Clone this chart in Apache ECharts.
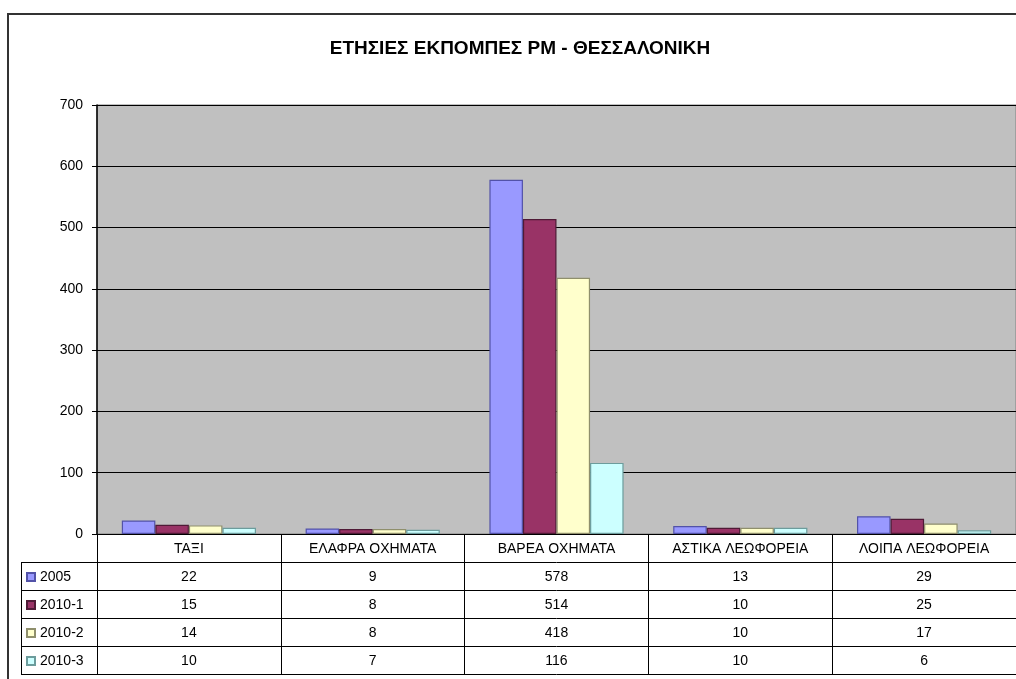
<!DOCTYPE html>
<html>
<head>
<meta charset="utf-8">
<script src="https://cdn.jsdelivr.net/npm/echarts@6/dist/echarts.min.js"></script>
<style>
  html, body { margin: 0; padding: 0; background: #fff; }
  #chart { width: 1016px; height: 679px; }
</style>
</head>
<body>
<div id="chart"></div>
<script>
  // dados
  const titulo = 'ΕΤΗΣΙΕΣ ΕΚΠΟΜΠΕΣ PM - ΘΕΣΣΑΛΟΝΙΚΗ';
  const categorias = ['ΤΑΞΙ', 'ΕΛΑΦΡΑ ΟΧΗΜΑΤΑ', 'ΒΑΡΕΑ ΟΧΗΜΑΤΑ', 'ΑΣΤΙΚΑ ΛΕΩΦΟΡΕΙΑ', 'ΛΟΙΠΑ ΛΕΩΦΟΡΕΙΑ'];
  const nomesSeries = ['2005', '2010-1', '2010-2', '2010-3'];
  const v2005 = [22, 9, 578, 13, 29];
  const v2010_1 = [15, 8, 514, 10, 25];
  const v2010_2 = [14, 8, 418, 10, 17];
  const v2010_3 = [10, 7, 116, 10, 6];
  const valores = [v2005, v2010_1, v2010_2, v2010_3];
  const yTicks = [0, 100, 200, 300, 400, 500, 600, 700];

  const cores = ['#9999FF', '#993366', '#FFFFCC', '#CCFFFF'];
  const bordas = ['#5252a8', '#4f1a36', '#8f8f6c', '#6c9c9c'];

  // layout (estilo Excel com tabela de dados)
  const FONTE = 'Liberation Sans, Arial, sans-serif';
  const GRID_LEFT = 97, GRID_TOP = 105, GRID_W = 922, GRID_H = 429;
  const EIXO_Y = GRID_TOP + GRID_H;
  const LINHA_H = 28;
  const COL_ROTULO_X = 21;

  const chart = echarts.init(document.getElementById('chart'));

  // eixo x principal (cabecalho) + um eixo por linha da tabela
  const eixosX = [{
    type: 'category',
    data: categorias,
    gridIndex: 0,
    position: 'bottom',
    axisLine: { lineStyle: { color: '#000', width: 1 } },
    axisTick: { show: true, length: LINHA_H, interval: 0, lineStyle: { color: '#000' } },
    axisLabel: { interval: 0, margin: 8, color: '#000', fontSize: 14, fontFamily: FONTE }
  }];
  valores.forEach((linha, i) => {
    eixosX.push({
      type: 'category',
      data: categorias,
      gridIndex: 0,
      position: 'bottom',
      offset: LINHA_H * (i + 1),
      axisLine: { lineStyle: { color: '#000', width: 1 } },
      axisTick: { show: true, length: LINHA_H, interval: 0, lineStyle: { color: '#000' } },
      axisLabel: {
        interval: 0, margin: 8, color: '#000', fontSize: 14, fontFamily: FONTE,
        formatter: (v, idx) => String(linha[idx])
      }
    });
  });
  // linha final da tabela
  eixosX.push({
    type: 'category',
    data: categorias,
    gridIndex: 0,
    position: 'bottom',
    offset: LINHA_H * (valores.length + 1),
    axisLine: { lineStyle: { color: '#000', width: 1 } },
    axisTick: { show: false },
    axisLabel: { show: false }
  });

  // bordas da coluna de rotulos a esquerda
  const linhasRotulo = [];
  for (let i = 1; i <= valores.length + 1; i++) {
    const y = EIXO_Y + LINHA_H * i + 0.5;
    linhasRotulo.push({
      type: 'line',
      shape: { x1: COL_ROTULO_X, y1: y, x2: GRID_LEFT, y2: y },
      style: { stroke: '#000', lineWidth: 1 }
    });
  }
  linhasRotulo.push({
    type: 'line',
    shape: { x1: COL_ROTULO_X + 0.5, y1: EIXO_Y + LINHA_H, x2: COL_ROTULO_X + 0.5, y2: EIXO_Y + LINHA_H * (valores.length + 1) },
    style: { stroke: '#000', lineWidth: 1 }
  });

  chart.setOption({
    animation: false,
    title: {
      text: titulo,
      left: 520,
      top: 39,
      padding: 0,
      textAlign: 'center',
      textStyle: { fontSize: 19, fontWeight: 'bold', color: '#000', fontFamily: FONTE }
    },
    legend: {
      data: nomesSeries,
      orient: 'vertical',
      left: 26,
      top: EIXO_Y + LINHA_H + 1,
      padding: 0,
      itemGap: 0,
      itemWidth: 8,
      itemHeight: 8,
      icon: 'rect',
      textStyle: { fontSize: 14, color: '#000', fontFamily: FONTE, lineHeight: LINHA_H }
    },
    grid: {
      left: GRID_LEFT, top: GRID_TOP, width: GRID_W, height: GRID_H,
      show: true, backgroundColor: '#C0C0C0', borderColor: '#808080', borderWidth: 1
    },
    xAxis: eixosX,
    yAxis: {
      type: 'value',
      min: yTicks[0],
      max: yTicks[yTicks.length - 1],
      interval: 100,
      axisLine: { show: true, lineStyle: { color: '#000', width: 1.5 } },
      axisTick: { show: true, length: 5, lineStyle: { color: '#000' } },
      axisLabel: { margin: 14, color: '#000', fontSize: 14, fontFamily: FONTE },
      splitLine: { show: true, lineStyle: { color: '#000', width: 1.2 } }
    },
    graphic: [
      {
        type: 'rect',
        shape: { x: 8, y: 14, width: 1100, height: 800 },
        style: { fill: 'none', stroke: '#333', lineWidth: 2 },
        silent: true
      },
      ...linhasRotulo
    ],
    series: valores.map((linha, i) => ({
      name: nomesSeries[i],
      type: 'bar',
      xAxisIndex: 0,
      data: linha,
      barGap: '0%',
      barCategoryGap: '27%',
      itemStyle: { color: cores[i], borderColor: bordas[i], borderWidth: 1.2 }
    }))
  });
</script>
</body>
</html>
